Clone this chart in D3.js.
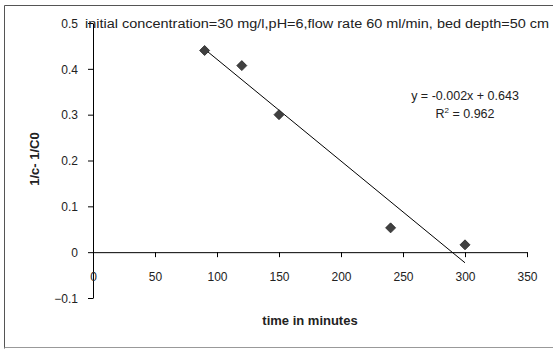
<!DOCTYPE html>
<html><head><meta charset="utf-8">
<script src="https://cdn.jsdelivr.net/npm/d3@7"></script>
<style>body{margin:0;background:#fff;} svg{display:block;}</style>
</head><body>
<svg id="c" width="553" height="349"></svg>
<script>
const timeMin = [90, 120, 150, 240, 300];
const invDiff = [0.44, 0.407, 0.30, 0.053, 0.016];
const xTicks = [0, 50, 100, 150, 200, 250, 300, 350];
const yTicks = [-0.1, 0, 0.1, 0.2, 0.3, 0.4, 0.5];
const titleText = "initial concentration=30 mg/l,pH=6,flow rate 60 ml/min, bed depth=50 cm";
const eqText = "y = -0.002x + 0.643";
const r2Value = "0.962";

const svg = d3.select("#c");
const font = "'Liberation Sans', Arial, sans-serif";

// frame
svg.append("path").attr("d","M4.5,348.5 V5.5 H553").attr("fill","none").attr("stroke","#555").attr("stroke-width",1);
svg.append("line").attr("x1",4.5).attr("x2",553).attr("y1",347.5).attr("y2",347.5).attr("stroke","#999");

const x = d3.scaleLinear().domain([0,350]).range([93,527]);
const y = d3.scaleLinear().domain([-0.1,0.5]).range([298,23]);

// y axis
const yAxis = svg.append("g").attr("transform","translate(93,0)")
  .call(d3.axisLeft(y).tickValues(yTicks).tickSize(5).tickSizeOuter(0).tickFormat(d => d3.format("")(+d.toFixed(1))));
yAxis.select(".domain").attr("stroke","#000");
yAxis.selectAll(".tick line").attr("stroke","#000");
yAxis.selectAll(".tick text").attr("font-family",font).attr("font-size",12).attr("fill","#222").attr("x",-15).attr("dy","0.35em");

// x axis at y=0
const xAxis = svg.append("g").attr("transform",`translate(0,${y(0)})`)
  .call(d3.axisBottom(x).tickValues(xTicks).tickSize(5).tickSizeOuter(0));
xAxis.select(".domain").attr("stroke","#000");
xAxis.selectAll(".tick line").attr("stroke","#000");
xAxis.selectAll(".tick text").attr("font-family",font).attr("font-size",12).attr("fill","#222").attr("y",20);

// regression
const n = timeMin.length;
const mx = d3.mean(timeMin), my = d3.mean(invDiff);
let sxy=0, sxx=0;
for (let i=0;i<n;i++){ sxy += (timeMin[i]-mx)*(invDiff[i]-my); sxx += (timeMin[i]-mx)**2; }
const slope = sxy/sxx, icpt = my - slope*mx;
const x0 = d3.min(timeMin), x1 = d3.max(timeMin);
svg.append("line").attr("x1",x(x0)).attr("y1",y(slope*x0+icpt)).attr("x2",x(x1)).attr("y2",y(slope*x1+icpt))
  .attr("stroke","#000").attr("stroke-width",1);

// markers
svg.selectAll(".pt").data(timeMin.map((t,i)=>[t,invDiff[i]])).enter().append("path")
  .attr("d",d3.symbol().type(d3.symbolSquare).size(50))
  .attr("transform",d=>`translate(${x(d[0])},${y(d[1])}) rotate(45)`)
  .attr("fill","#404040").attr("stroke","#2a2a2a").attr("stroke-width",0.8);

// title
svg.append("text").attr("x",85).attr("y",28).attr("font-family",font).attr("font-size",12).attr("fill","#222")
  .attr("textLength",464).attr("lengthAdjust","spacingAndGlyphs").text(titleText);

// equation
svg.append("text").attr("x",465).attr("y",100).attr("text-anchor","middle").attr("font-family",font).attr("font-size",12.5).attr("fill","#222").text(eqText);
const r2 = svg.append("text").attr("x",465).attr("y",118).attr("text-anchor","middle").attr("font-family",font).attr("font-size",12.5).attr("fill","#222");
r2.append("tspan").text("R");
r2.append("tspan").attr("font-size",8).attr("dy",-5).text("2");
r2.append("tspan").attr("dy",5).text(" = " + r2Value);

// axis titles
svg.append("text").attr("x",310).attr("y",325).attr("text-anchor","middle").attr("font-family",font).attr("font-size",13).attr("font-weight","bold").attr("fill","#222").text("time in minutes");
svg.append("text").attr("transform","translate(39,159) rotate(-90)").attr("text-anchor","middle").attr("font-family",font).attr("font-size",13).attr("font-weight","bold").attr("fill","#222").text("1/c- 1/C0");
</script>
</body></html>
